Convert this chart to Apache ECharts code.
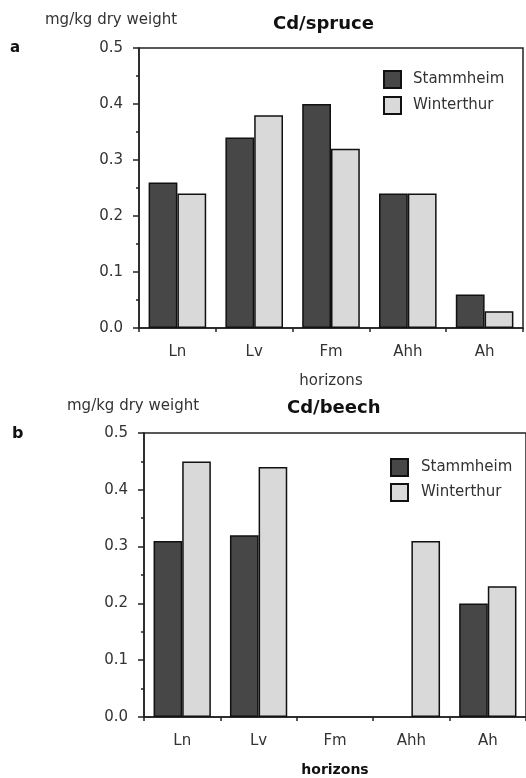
<!DOCTYPE html>
<html>
<head>
<meta charset="utf-8">
<script src="https://cdn.jsdelivr.net/npm/echarts@6/dist/echarts.min.js"></script>
<style>
  html, body { margin: 0; padding: 0; background: #fff; }
  #chart { width: 526px; height: 778px; }
</style>
</head>
<body>
<div id="chart"></div>
<script>
// horizons on the x axis (same for both panels)
const horizons = ['Ln', 'Lv', 'Fm', 'Ahh', 'Ah'];
// a: Cd / spruce
const spruceStammheim = [0.26, 0.34, 0.40, 0.24, 0.06];
const spruceWinterthur = [0.24, 0.38, 0.32, 0.24, 0.03];
// b: Cd / beech (no bars for Fm, Ahh Stammheim)
const beechStammheim = [0.31, 0.32, null, null, 0.20];
const beechWinterthur = [0.45, 0.44, null, 0.31, 0.23];
const yTicks = [0, 0.1, 0.2, 0.3, 0.4, 0.5];

const FONT = 'DejaVu Sans';
const INK = '#222';
const DARK = '#474747';
const LIGHT = '#d9d9d9';

let chart = echarts.init(document.getElementById('chart'), null, { renderer: 'canvas' });

function xAxisFor(gridIndex, nameStyle) {
    return {
        type: 'category',
        gridIndex: gridIndex,
        data: horizons,
        name: 'horizons',
        nameLocation: 'middle',
        nameGap: 46,
        nameTextStyle: nameStyle,
        axisLine: { lineStyle: { color: INK, width: 1.5 } },
        axisTick: { show: true, length: 4, lineStyle: { color: INK, width: 1.5 } },
        axisLabel: { margin: 17, fontFamily: FONT, fontSize: 15, color: '#333' },
        splitLine: { show: false }
    };
}

function yAxisFor(gridIndex) {
    return {
        type: 'value',
        gridIndex: gridIndex,
        min: yTicks[0],
        max: yTicks[yTicks.length - 1],
        interval: 0.1,
        axisLine: { show: true, lineStyle: { color: INK, width: 1.5 } },
        axisTick: { show: true, length: 6, lineStyle: { color: INK, width: 1.5 } },
        minorTick: { show: true, splitNumber: 2, length: 3, lineStyle: { color: INK, width: 1.5 } },
        axisLabel: {
            margin: 16, fontFamily: FONT, fontSize: 15, color: '#333',
            formatter: v => v.toFixed(1)
        },
        splitLine: { show: false }
    };
}

function barSeries(name, data, idx, color) {
    return {
        name: name,
        type: 'bar',
        xAxisIndex: idx,
        yAxisIndex: idx,
        data: data,
        barGap: '0%',
        barCategoryGap: '25%',
        itemStyle: { color: color, borderColor: '#111', borderWidth: 1.5 },
        emphasis: { disabled: true }
    };
}

function legendFor(left, top, gap, pad) {
    return {
        orient: 'vertical',
        left: left,
        top: top,
        itemWidth: 17,
        itemHeight: 17,
        itemGap: gap,
        icon: 'rect',
        selectedMode: false,
        data: ['Stammheim', 'Winterthur'],
        textStyle: { fontFamily: FONT, fontSize: 15, color: '#333', padding: [0, 0, 0, pad] }
    };
}

chart.setOption({
    animation: false,
    grid: [
        { left: 139, top: 48, right: 3, height: 280, show: true, borderColor: INK, borderWidth: 1.5 },
        { left: 144, top: 433, right: -4, height: 284, show: true, borderColor: INK, borderWidth: 1.5 }
    ],
    xAxis: [
        xAxisFor(0, { fontFamily: FONT, fontSize: 15, color: '#333' }),
        xAxisFor(1, { fontFamily: FONT, fontSize: 14, fontWeight: 'bold', color: '#111' })
    ],
    yAxis: [yAxisFor(0), yAxisFor(1)],
    legend: [legendFor(378, 65, 7, 7), legendFor(385, 453, 6, 8)],
    series: [
        barSeries('Stammheim', spruceStammheim, 0, DARK),
        barSeries('Winterthur', spruceWinterthur, 0, LIGHT),
        barSeries('Stammheim', beechStammheim, 1, DARK),
        barSeries('Winterthur', beechWinterthur, 1, LIGHT)
    ],
    graphic: [
        { type: 'text', left: 45, top: 13, style: { text: 'mg/kg dry weight', font: '15px "DejaVu Sans"', fill: '#333' } },
        { type: 'text', left: 10, top: 41, style: { text: 'a', font: 'bold 15px "DejaVu Sans"', fill: '#111' } },
        { type: 'text', left: 273, top: 15, style: { text: 'Cd/spruce', font: 'bold 18px "DejaVu Sans"', fill: '#111' } },
        { type: 'text', left: 67, top: 399, style: { text: 'mg/kg dry weight', font: '15px "DejaVu Sans"', fill: '#333' } },
        { type: 'text', left: 12, top: 426, style: { text: 'b', font: 'bold 16px "DejaVu Sans"', fill: '#111' } },
        { type: 'text', left: 287, top: 399, style: { text: 'Cd/beech', font: 'bold 18px "DejaVu Sans"', fill: '#111' } }
    ]
});
</script>
</body>
</html>
